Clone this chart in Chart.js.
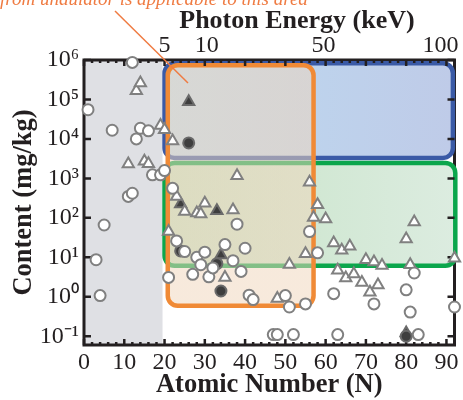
<!DOCTYPE html>
<html>
<head>
<meta charset="utf-8">
<script src="https://cdn.jsdelivr.net/npm/chart.js@4/dist/chart.umd.min.js"></script>
<style>
  html, body { margin: 0; padding: 0; background: #fff; }
</style>
</head>
<body>
<canvas id="chart" width="463" height="400"></canvas>
<script>
// ===== Data =====
const circleZ       = [1, 3, 4, 5, 7, 11, 12, 12, 13, 14, 16, 17, 19, 20, 21, 22, 23, 25, 27, 28, 29, 30, 31, 32, 35, 37, 38, 39, 40, 41, 42, 47, 48, 50, 51, 52, 55, 56, 58, 62, 63, 72, 80, 81, 82, 83, 92];
const circleContent = [5.5e4, 8.7, 1.07, 66, 1.66e4, 350, 8.7e5, 420, 1.0e4, 1.86e4, 1.6e4, 1230, 1230, 1580, 3.1, 560, 26, 14, 3.7, 10, 6.5, 13.5, 3.2, 5.4, 21, 8.2, 69, 4.4, 17, 1.1, 0.85, 0.11, 0.11, 1.07, 0.55, 0.11, 0.66, 45, 13, 1.2, 0.11, 0.66, 1.5, 0.41, 4.0, 0.11, 0.55];

const triangleZ       = [11, 13, 14, 15, 16, 19, 20, 21, 22, 23, 25, 28, 29, 30, 35, 37, 38, 48, 51, 55, 56, 57, 58, 60, 62, 63, 64, 65, 66, 67, 69, 70, 71, 72, 73, 74, 80, 81, 82, 92];
const triangleContent = [2300, 1.66e5, 2.6e5, 2700, 2350, 2.2e4, 1.7e4, 45, 8900, 350, 145, 132, 126, 235, 3.1, 158, 1175, 0.9, 6.6, 12.3, 794, 102, 214, 93, 23, 4.7, 15, 3.0, 19, 3.8, 2.3, 8.7, 1.3, 7.6, 2.0, 6.2, 29, 6.5, 78, 9.5];

const darkTriangleZ       = [24, 26, 33, 34, 80];
const darkTriangleContent = [224, 8.7e4, 151, 11.5, 0.12];

const darkCircleZ       = [24, 26, 33, 34, 80];
const darkCircleContent = [14.5, 7900, 6.9, 1.4, 0.1];

// bottom axis ticks
const zTicks = [0, 10, 20, 30, 40, 50, 60, 70, 80, 90];

// top axis: photon energy labels and the atomic number they sit over
const energyLabels = ['5', '10', '50', '100'];
const energyAtZ    = [20, 30.5, 59.5, 88.5];

// y axis decades
const decades = [0.1, 1, 10, 100, 1e3, 1e4, 1e5, 1e6];

// shaded bands (atomic number / content ranges)
const grayZMax    = 19.5;
const regionNames = ['blue', 'green', 'orange'];
const regionZMin  = [20, 20, 20.8];
const regionZMax  = [91.6, 92.2, 57];
const regionTop   = [8.3e5, 2450, 7.4e5];
const regionBot   = [3300, 6.1, 0.59];

// ===== Styles =====
const ink = '#231f20';
const serif = '"Liberation Serif", "Times New Roman", serif';
const regionStyle = {
  blue:   { border: '#3a5aa6', fill: ['#bcdbf1', '#bfcbe8'] },
  green:  { border: '#0ba64c', fill: ['#c6e3c6', '#dcece0'] },
  orange: { border: '#f08a36', fill: ['rgba(240,214,188,0.52)', 'rgba(240,214,188,0.52)'] }
};

const toPoints = (xs, ys) => xs.map((x, i) => ({ x, y: ys[i] }));

const supMap = { '-': '\u207B', '0': '\u2070', '1': '\u00B9', '2': '\u00B2', '3': '\u00B3',
  '4': '\u2074', '5': '\u2075', '6': '\u2076', '7': '\u2077', '8': '\u2078', '9': '\u2079' };
const sup = s => String(s).split('').map(c => supMap[c]).join('');

// ===== Plugin: bands, frame, ticks, annotations =====
const decorPlugin = {
  id: 'decor',
  beforeDatasetsDraw(chart) {
    const { ctx, chartArea: a, scales: { x, y } } = chart;
    ctx.save();

    // gray band on the left
    ctx.fillStyle = '#dfe0e4';
    ctx.fillRect(a.left, a.top, x.getPixelForValue(grayZMax) - a.left, a.bottom - a.top);

    // frame
    ctx.strokeStyle = ink;
    ctx.lineWidth = 3;
    ctx.strokeRect(a.left, a.top, a.right - a.left, a.bottom - a.top);

    // rounded bands
    regionNames.forEach((name, i) => {
      const st = regionStyle[name];
      const x0 = x.getPixelForValue(regionZMin[i]);
      const x1 = x.getPixelForValue(regionZMax[i]);
      const y0 = y.getPixelForValue(regionTop[i]);
      const y1 = y.getPixelForValue(regionBot[i]);
      const g = ctx.createLinearGradient(x0, 0, x1, 0);
      g.addColorStop(0, st.fill[0]);
      g.addColorStop(1, st.fill[1]);
      ctx.beginPath();
      ctx.roundRect(x0, y0, x1 - x0, y1 - y0, 10);
      ctx.fillStyle = g;
      ctx.fill();
      ctx.lineWidth = 4.5;
      ctx.strokeStyle = st.border;
      ctx.stroke();
    });

    // inward ticks
    ctx.strokeStyle = ink;
    ctx.lineWidth = 2.5;
    ctx.beginPath();
    decades.forEach(v => {
      const py = y.getPixelForValue(v);
      ctx.moveTo(a.left, py); ctx.lineTo(a.left + 7, py);
      ctx.moveTo(a.right, py); ctx.lineTo(a.right - 7, py);
    });
    for (let z = 0; z <= 92; z += 2) {
      const px = x.getPixelForValue(z);
      const len = z % 10 === 0 ? 6 : 3;
      ctx.moveTo(px, a.bottom); ctx.lineTo(px, a.bottom - len);
      ctx.moveTo(px, a.top); ctx.lineTo(px, a.top + len);
    }
    ctx.stroke();
    ctx.restore();
  },
  afterDraw(chart) {
    const { ctx } = chart;
    ctx.save();
    ctx.fillStyle = ink;
    ctx.font = 'bold 26px ' + serif;
    ctx.textAlign = 'center';
    ctx.textBaseline = 'alphabetic';
    ctx.fillText('Photon Energy (keV)', 297, 28);

    ctx.fillStyle = '#ef7b42';
    ctx.font = 'italic 19px ' + serif;
    ctx.textAlign = 'left';
    ctx.fillText('from undulator is applicable to this area', 0, 5);

    ctx.strokeStyle = '#ef7b42';
    ctx.lineWidth = 1.5;
    ctx.beginPath();
    ctx.moveTo(115, 11);
    ctx.lineTo(188, 83);
    ctx.stroke();
    ctx.restore();
  }
};

// ===== Chart =====
const openStyle = { backgroundColor: '#ffffff', borderColor: '#808080', borderWidth: 2, clip: false };
const darkStyle = { backgroundColor: '#3e3e3e', borderColor: '#6a6a6a', borderWidth: 2, clip: false };

new Chart(document.getElementById('chart'), {
  type: 'scatter',
  data: {
    datasets: [
      { label: 'circles', data: toPoints(circleZ, circleContent), pointStyle: 'circle', pointRadius: 5.5, ...openStyle },
      { label: 'triangles', data: toPoints(triangleZ, triangleContent), pointStyle: 'triangle', pointRadius: 6.5, ...openStyle },
      { label: 'dark circles', data: toPoints(darkCircleZ, darkCircleContent), pointStyle: 'circle', pointRadius: 5.5, ...darkStyle },
      { label: 'dark triangles', data: toPoints(darkTriangleZ, darkTriangleContent), pointStyle: 'triangle', pointRadius: 6.5, ...darkStyle }
    ]
  },
  options: {
    responsive: false,
    animation: false,
    devicePixelRatio: 1,
    layout: { padding: { left: 0, right: 6, top: 0, bottom: 0 } },
    plugins: { legend: { display: false }, tooltip: { enabled: false } },
    scales: {
      x: {
        type: 'linear', position: 'bottom', min: 0, max: 92,
        grid: { display: false, drawTicks: false }, border: { display: false },
        afterBuildTicks: s => { s.ticks = zTicks.map(v => ({ value: v })); },
        ticks: { autoSkip: false, maxRotation: 0, padding: 3, color: ink, font: { family: serif, size: 24 } },
        title: { display: true, text: 'Atomic Number (N)', color: ink, padding: { top: 0, bottom: -1 }, font: { family: serif, size: 26.5, weight: 'bold' } },
        afterFit: s => { s.height = 55; s.paddingLeft = 0; s.paddingRight = 0; }
      },
      x2: {
        type: 'linear', position: 'top', min: 0, max: 92,
        grid: { display: false, drawTicks: false }, border: { display: false },
        afterBuildTicks: s => { s.ticks = energyAtZ.map(v => ({ value: v })); },
        ticks: { autoSkip: false, maxRotation: 0, padding: 0, color: ink, font: { family: serif, size: 24 },
                 callback: (v, i) => energyLabels[i] },
        afterFit: s => { s.height = 60; s.paddingLeft = 0; s.paddingRight = 0; }
      },
      y: {
        type: 'logarithmic', min: 0.06, max: 1e6,
        grid: { display: false, drawTicks: false }, border: { display: false },
        afterBuildTicks: s => { s.ticks = decades.map(v => ({ value: v })); },
        ticks: { autoSkip: false, padding: 5, color: ink, font: { family: serif, size: 24 },
                 callback: v => '10' + sup(Math.round(Math.log10(v))) },
        title: { display: true, text: 'Content (mg/kg)', color: ink, padding: { top: 8 }, font: { family: serif, size: 26.5, weight: 'bold' } },
        afterFit: s => { s.width = 84; s.paddingTop = 0; s.paddingBottom = 0; }
      }
    }
  },
  plugins: [decorPlugin]
});
</script>
</body>
</html>
